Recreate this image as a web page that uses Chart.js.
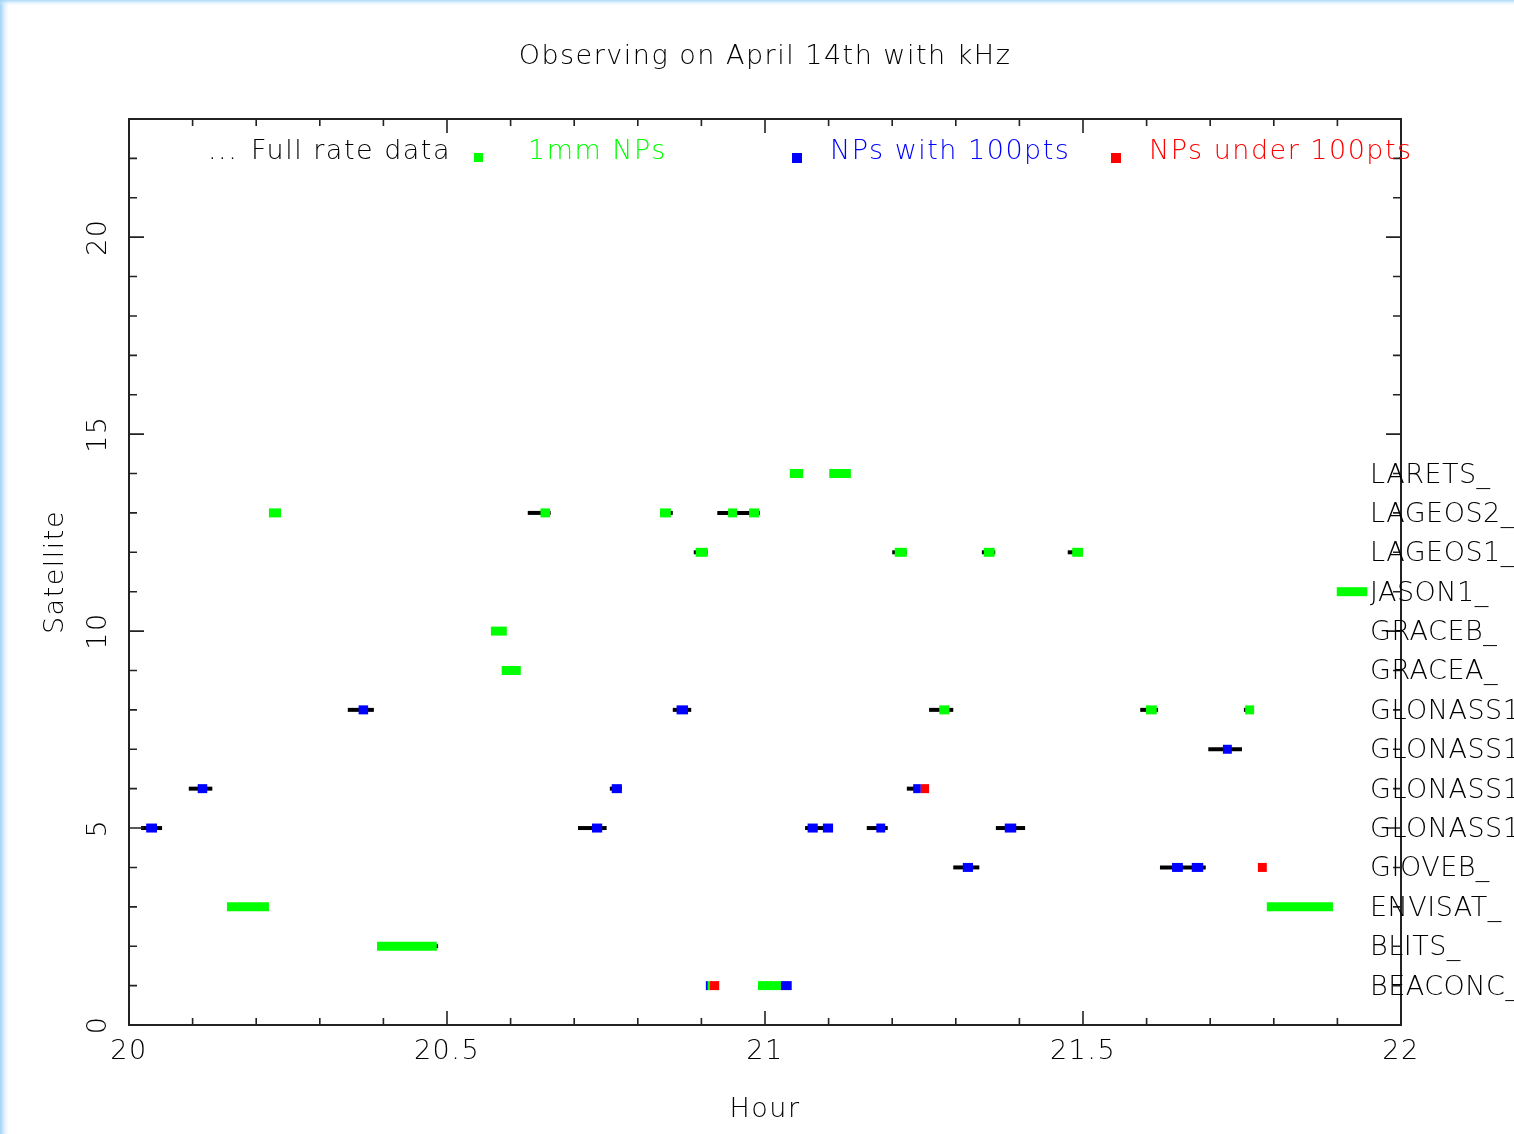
<!DOCTYPE html>
<html>
<head>
<meta charset="utf-8">
<title>Observing on April 14th with kHz</title>
<script src="https://cdn.jsdelivr.net/npm/chart.js@4.4.1/dist/chart.umd.min.js"></script>
<style>
  html, body { margin: 0; padding: 0; }
  #wrap {
    width: 1514px; height: 1134px; position: relative;
    background:
      linear-gradient(to bottom, rgba(160,210,245,0.85) 0px, rgba(205,232,250,0.4) 3px, rgba(255,255,255,0) 6px),
      linear-gradient(to right, rgba(150,205,245,0.9) 0px, rgba(205,232,250,0.5) 5px, rgba(255,255,255,0) 9px),
      #ffffff;
  }
  canvas { display: block; }
</style>
</head>
<body>
<div id="wrap"><canvas id="myChart" width="1514" height="1134"></canvas></div>
<script>
// Назви супутників, рядок 1..14 на осі Y
const satellites = ['BEACONC_', 'BLITS_', 'ENVISAT_', 'GIOVEB_', 'GLONASS1', 'GLONASS1', 'GLONASS1',
  'GLONASS1', 'GRACEA_', 'GRACEB_', 'JASON1_', 'LAGEOS1_', 'LAGEOS2_', 'LARETS_'];

// [рядок, початок (год), кінець (год)]
const fullRate = [
  [13, 20.627, 20.663], [13, 20.835, 20.855], [13, 20.925, 20.992],
  [12, 20.888, 20.910], [12, 21.200, 21.223], [12, 21.341, 21.362], [12, 21.476, 21.500],
  [8, 20.344, 20.385], [8, 20.855, 20.884], [8, 21.258, 21.296], [8, 21.590, 21.618], [8, 21.753, 21.769],
  [7, 21.697, 21.750],
  [6, 20.094, 20.131], [6, 20.756, 20.775], [6, 21.223, 21.240],
  [5, 20.019, 20.052], [5, 20.706, 20.751], [5, 21.063, 21.107], [5, 21.160, 21.193], [5, 21.363, 21.409],
  [4, 21.296, 21.337], [4, 21.621, 21.693],
  [2, 20.470, 20.486]
];

const npsOneMm = [
  [14, 21.039, 21.060], [14, 21.101, 21.135],
  [13, 20.220, 20.239], [13, 20.647, 20.662], [13, 20.835, 20.852], [13, 20.942, 20.956], [13, 20.975, 20.991],
  [12, 20.891, 20.910], [12, 21.204, 21.223], [12, 21.344, 21.361], [12, 21.483, 21.500],
  [11, 21.899, 21.947],
  [10, 20.569, 20.594],
  [9, 20.586, 20.616],
  [8, 21.274, 21.290], [8, 21.599, 21.616], [8, 21.755, 21.769],
  [3, 20.154, 20.220], [3, 21.789, 21.893],
  [2, 20.390, 20.484],
  [1, 20.910, 20.913], [1, 20.989, 21.025]
];

const nps100 = [
  [8, 20.361, 20.376], [8, 20.861, 20.879],
  [7, 21.720, 21.734],
  [6, 20.108, 20.123], [6, 20.759, 20.775], [6, 21.233, 21.245],
  [5, 20.027, 20.044], [5, 20.728, 20.744], [5, 21.067, 21.083], [5, 21.091, 21.107], [5, 21.175, 21.189], [5, 21.377, 21.395],
  [4, 21.311, 21.327], [4, 21.640, 21.657], [4, 21.671, 21.689],
  [1, 20.907, 20.910], [1, 21.025, 21.042]
];

const npsUnder100 = [
  [6, 21.245, 21.258],
  [4, 21.775, 21.789],
  [1, 20.913, 20.928]
];

const xTicks = [20, 20.5, 21, 21.5, 22];
const yTicks = [0, 5, 10, 15, 20];

const FONT = "'DejaVu Sans', sans-serif";
const INK = '#000';

// один набір = один тип точок
function bars(rows, color, thick, order) {
  return {
    data: rows.map(([r, s, e]) => ({ y: r, x: [s, e] })),
    backgroundColor: color,
    borderWidth: 0,
    maxBarThickness: thick,
    grouped: false,
    order: order
  };
}

// рамка, штрихи, підписи, легенда
const frame = {
  id: 'frame',
  beforeDraw(chart) {
    chart.ctx.letterSpacing = '1.5px';
  },
  afterDraw(chart) {
    const { ctx, chartArea: a, scales: { x, y } } = chart;
    ctx.save();
    ctx.letterSpacing = '1.5px';
    ctx.strokeStyle = '#222';
    ctx.lineWidth = 2;
    ctx.strokeRect(a.left, a.top, a.right - a.left, a.bottom - a.top);

    ctx.lineWidth = 1.6;
    ctx.beginPath();
    for (let i = 0; i <= 20; i++) {
      const px = x.getPixelForValue(20 + i * 0.1);
      const len = i % 5 === 0 ? 14 : 7;
      ctx.moveTo(px, a.bottom); ctx.lineTo(px, a.bottom - len);
      ctx.moveTo(px, a.top); ctx.lineTo(px, a.top + len);
    }
    for (let v = 0; v <= 23; v++) {
      const py = y.getPixelForValue(v);
      const len = v % 5 === 0 ? 15 : 8;
      ctx.moveTo(a.left, py); ctx.lineTo(a.left + len, py);
      ctx.moveTo(a.right, py); ctx.lineTo(a.right - len, py);
    }
    ctx.stroke();

    ctx.font = '200 27px ' + FONT;
    ctx.fillStyle = INK;

    // підписи осі Y (повернуті)
    ctx.textAlign = 'center';
    ctx.textBaseline = 'middle';
    yTicks.forEach(v => {
      ctx.save();
      ctx.translate(a.left - 30, y.getPixelForValue(v));
      ctx.rotate(-Math.PI / 2);
      ctx.fillText(String(v), 0, 0);
      ctx.restore();
    });

    // заголовок
    ctx.fillText('Observing on April 14th with kHz', (a.left + a.right) / 2, 57);

    // легенда
    ctx.textAlign = 'left';
    const ly = a.top + 33;
    ctx.fillText('...', a.left + 79, ly);
    ctx.fillText('Full rate data', a.left + 122, ly);
    ctx.fillStyle = '#00ff00';
    ctx.fillRect(a.left + 345, ly + 1, 9, 9);
    ctx.fillText('1mm NPs', a.left + 399, ly);
    ctx.fillStyle = '#0000ff';
    ctx.fillRect(a.left + 663, ly + 1, 10, 10);
    ctx.fillText('NPs with 100pts', a.left + 701, ly);
    ctx.fillStyle = '#ff0000';
    ctx.fillRect(a.left + 982, ly + 1, 10, 10);
    ctx.fillText('NPs under 100pts', a.left + 1020, ly);

    // назви супутників праворуч
    ctx.fillStyle = INK;
    ctx.letterSpacing = '0.5px';
    satellites.forEach((name, i) => {
      ctx.fillText(name, a.right - 31, y.getPixelForValue(i + 1) + 2);
    });
    ctx.restore();
  }
};

const ctx = document.getElementById('myChart').getContext('2d');
new Chart(ctx, {
  type: 'bar',
  data: {
    datasets: [
      bars(npsUnder100, '#ff0000', 9, 1),
      bars(nps100, '#0000ff', 9, 2),
      bars(npsOneMm, '#00ff00', 9, 3),
      bars(fullRate, '#000000', 4, 4)
    ]
  },
  options: {
    responsive: false,
    animation: false,
    devicePixelRatio: 1,
    indexAxis: 'y',
    layout: { padding: { top: 119, right: 113, left: 0, bottom: 0 } },
    plugins: {
      legend: { display: false },
      tooltip: { enabled: false },
      title: { display: false }
    },
    scales: {
      x: {
        type: 'linear',
        position: 'bottom',
        min: 20,
        max: 22,
        beginAtZero: false,
        grid: { display: false, drawTicks: false },
        border: { display: false },
        afterBuildTicks: s => { s.ticks = xTicks.map(v => ({ value: v })); },
        afterFit: s => { s.height = 109; },
        ticks: {
          padding: 11,
          color: INK,
          autoSkip: false,
          maxRotation: 0,
          font: { family: FONT, size: 27, weight: '200' },
          callback: v => String(v)
        },
        title: {
          display: true,
          text: 'Hour',
          color: INK,
          font: { family: FONT, size: 27, weight: '200' },
          padding: { top: 0, bottom: 8 }
        }
      },
      y: {
        type: 'linear',
        position: 'left',
        min: 0,
        max: 23,
        offset: false,
        grid: { display: false, drawTicks: false, offset: false },
        border: { display: false },
        ticks: { display: false },
        afterFit: s => { s.width = 129; },
        title: {
          display: true,
          text: 'Satellite',
          color: INK,
          font: { family: FONT, size: 27, weight: '200' },
          padding: { top: 40, bottom: 0 }
        }
      }
    }
  },
  plugins: [frame]
});
</script>
</body>
</html>
